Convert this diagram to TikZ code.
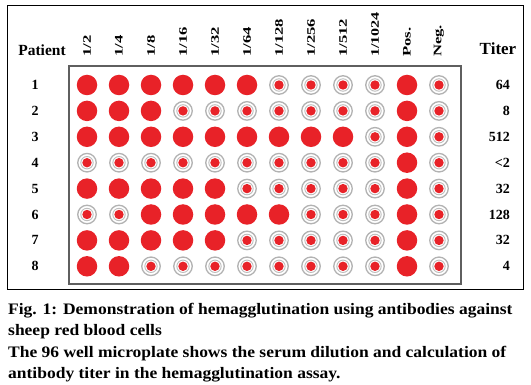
\documentclass[tikz,border=0pt]{standalone}
\usepackage{fontspec}
\setmainfont{Liberation Serif}
\definecolor{wellred}{RGB}{232,34,40}
\definecolor{ringgray}{RGB}{178,178,178}
\definecolor{plategray}{RGB}{95,95,95}
\begin{document}
\begin{tikzpicture}[x=1pt,y=-1pt,
  posw/.style={circle, fill=wellred, minimum size=20.5pt, inner sep=0pt},
  negw/.style={circle, minimum size=18.5pt, inner sep=0pt, draw=ringgray, line width=1.3pt,
    path picture={\draw[ringgray!85, line width=0.9pt] (path picture bounding box.center) circle (6.2pt);
      \fill[wellred] (path picture bounding box.center) circle (4.7pt);}},
  hdr/.style={font=\bfseries\fontsize{11.5}{13}\selectfont, rotate=90, anchor=west, inner sep=0pt},
  lbl/.style={font=\bfseries\fontsize{15.5}{17}\selectfont, inner sep=0pt},
  rowlbl/.style={font=\bfseries\fontsize{14}{16}\selectfont, inner sep=0pt},
  titv/.style={font=\bfseries\fontsize{14}{16}\selectfont, inner sep=0pt, anchor=east},
  captext/.style={font=\bfseries\fontsize{16}{18}\selectfont, inner sep=0pt, anchor=base west}]
\useasboundingbox (0,0) rectangle (531,385);
\fill[white] (0,0) rectangle (531,385);
% frames
\draw[black, line width=0.9pt] (7,5) rectangle (523,289);
\draw[plategray, line width=2.2pt] (69,66) rectangle (461,284);
% wells
\foreach \row [count=\i] in {
  {1,1,1,1,1,1,0,0,0,0,1,0},
  {1,1,1,0,0,0,0,0,0,0,1,0},
  {1,1,1,1,1,1,1,1,1,0,1,0},
  {0,0,0,0,0,0,0,0,0,0,1,0},
  {1,1,1,1,1,0,0,0,0,0,1,0},
  {0,0,1,1,1,1,1,0,0,0,1,0},
  {1,1,1,1,1,0,0,0,0,0,1,0},
  {1,1,0,0,0,0,0,0,0,0,1,0}}{
  \foreach \v [count=\j] in \row {
    \ifnum\v=1
      \node[posw] (w-\i-\j) at ({87+32*(\j-1)},{85+25.9*(\i-1)}) {};
    \else
      \node[negw] (w-\i-\j) at ({87+32*(\j-1)},{85+25.9*(\i-1)}) {};
    \fi
  }
}
% column headers
\node[hdr] (h1) at (87,57) {\scalebox{1.45}[1]{1/2}};
\node[hdr] (h2) at (119,57) {\scalebox{1.45}[1]{1/4}};
\node[hdr] (h3) at (151,57) {\scalebox{1.45}[1]{1/8}};
\node[hdr] (h4) at (183,57) {\scalebox{1.45}[1]{1/16}};
\node[hdr] (h5) at (215,57) {\scalebox{1.45}[1]{1/32}};
\node[hdr] (h6) at (247,57) {\scalebox{1.45}[1]{1/64}};
\node[hdr] (h7) at (279,57) {\scalebox{1.45}[1]{1/128}};
\node[hdr] (h8) at (311,57) {\scalebox{1.45}[1]{1/256}};
\node[hdr] (h9) at (343,57) {\scalebox{1.45}[1]{1/512}};
\node[hdr] (h10) at (375,57) {\scalebox{1.4}[1]{1/1024}};
\node[hdr] (h11) at (407,57) {\scalebox{1.45}[1]{Pos.}};
\node[hdr] (h12) at (439,57) {\scalebox{1.45}[1]{Neg.}};
% labels
\node[lbl] (patient) at (42,50) {Patient};
\node[lbl, font=\bfseries\fontsize{17}{19}\selectfont] (titer) at (498,49) {Titer};
\foreach \k in {1,...,8}{
  \node[rowlbl] (r\k) at ({35},{85+25.9*(\k-1)}) {\k};
}
\node[titv] (t1) at (510,85) {64};
\node[titv] (t2) at (510,110.9) {8};
\node[titv] (t3) at (510,136.8) {512};
\node[titv] (t4) at (510,162.7) {<2};
\node[titv] (t5) at (510,188.6) {32};
\node[titv] (t6) at (510,214.5) {128};
\node[titv] (t7) at (510,240.4) {32};
\node[titv] (t8) at (510,266.3) {4};
% caption
\node[captext] (c1) at (8,315) {\scalebox{1.093}[1]{Fig. 1: Demonstration of hemagglutination using antibodies against}};
\node[captext] (c2) at (8,336) {\scalebox{1.093}[1]{sheep red blood cells}};
\node[captext] (c3) at (8,357) {\scalebox{1.093}[1]{The 96 well microplate shows the serum dilution and calculation of}};
\node[captext] (c4) at (8,378) {\scalebox{1.093}[1]{antibody titer in the hemagglutination assay.}};
\end{tikzpicture}
\end{document}
